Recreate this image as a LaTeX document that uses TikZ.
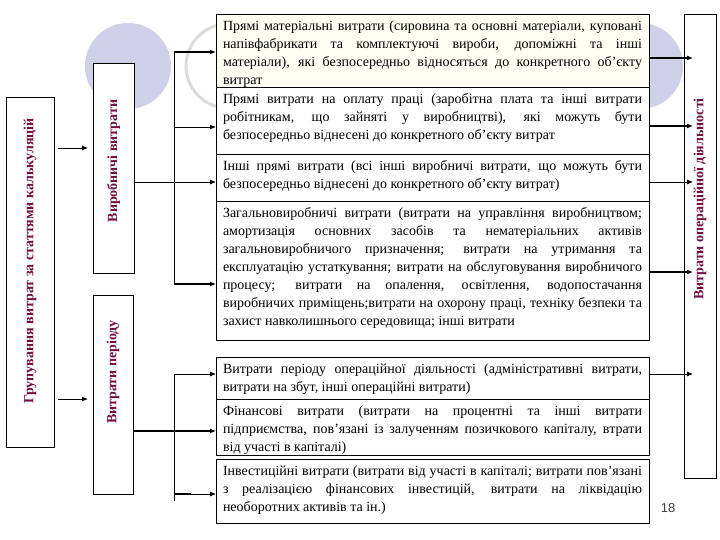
\documentclass[tikz,border=0pt]{standalone}
\usepackage{fontspec}
\setmainfont{Liberation Serif}
\newfontfamily\numfont{Liberation Sans}
\usetikzlibrary{arrows.meta}
\definecolor{lav}{RGB}{208,208,232}
\definecolor{ringgray}{RGB}{220,220,220}
\definecolor{labelred}{RGB}{112,16,64}
\definecolor{cream}{RGB}{255,255,244}
\newcommand\boxtxt[2]{\begin{minipage}[c][#1][t]{419pt}\fontsize{14pt}{18pt}\selectfont\vspace*{6.5pt}#2\end{minipage}}
\begin{document}
\begin{tikzpicture}[x=1pt,y=-1pt,
  tbox/.style={draw=black, line width=0.9pt, fill=white, anchor=north west, inner xsep=7pt, inner ysep=0pt, outer sep=0pt},
  vbox/.style={draw=black, line width=0.9pt, fill=white, anchor=north west, inner sep=0pt, outer sep=0pt},
  vlabel/.style={rotate=90, font=\fontsize{14pt}{16pt}\selectfont\bfseries, text=labelred, inner sep=0pt},
  thinarr/.style={line width=0.8pt, -{Latex[length=6pt,width=5pt]}},
  thickarr/.style={line width=1.8pt, -{Latex[length=6pt,width=5pt]}},
  conn/.style={line width=0.8pt}]
\useasboundingbox (0,0) rectangle (720,540);
\fill[white] (0,0) rectangle (720,540);
% background circles
\fill[lav] (128,66) circle (43pt);
\draw[ringgray, line width=3pt] (228,66) circle (42pt);
\fill[lav] (640,66) circle (43pt);
% left boxes
\node[vbox, minimum width=48pt, minimum height=350pt] (grp) at (6,97) {};
\node[vlabel] (grpl) at (30,261) {Групування витрат за статтями калькуляцій};
\node[vbox, minimum width=41pt, minimum height=210pt] (vyr) at (93,63) {};
\node[vlabel] (vyrl) at (113.5,161) {Виробничі витрати};
\node[vbox, minimum width=40pt, minimum height=199pt] (per) at (93,295) {};
\node[vlabel] (perl) at (113,372) {Витрати періоду};
% right box
\node[vbox, minimum width=32pt, minimum height=464pt] (op) at (684,14) {};
\node[vlabel] (opl) at (700,199) {Витрати операційної діяльності};
% text boxes
\node[tbox, fill=cream] (b1) at (216,14) {\boxtxt{73pt}{Прямі матеріальні витрати (сировина та основні матеріали, куповані \linebreak напівфабрикати та комплектуючі вироби, допоміжні та інші \linebreak матеріали), які безпосередньо відносяться до конкретного об'єкту \linebreak витрат}};
\node[tbox] (b2) at (216,87) {\boxtxt{67pt}{Прямі витрати на оплату праці (заробітна плата та інші витрати \linebreak робітникам, що зайняті у виробництві), які можуть бути \linebreak безпосередньо віднесені до конкретного об'єкту витрат}};
\node[tbox] (b3) at (216,154) {\boxtxt{47pt}{Інші прямі витрати (всі інші виробничі витрати, що можуть бути \linebreak безпосередньо віднесені до конкретного об'єкту витрат)}};
\node[tbox] (b4) at (216,201) {\boxtxt{139pt}{Загальновиробничі витрати (витрати на управління виробництвом; \linebreak амортизація основних засобів та нематеріальних активів \linebreak загальновиробничого призначення; витрати на утримання та \linebreak експлуатацію устаткування; витрати на обслуговування виробничого \linebreak процесу; витрати на опалення, освітлення, водопостачання \linebreak виробничих приміщень;витрати на охорону праці, техніку безпеки та \linebreak захист навколишнього середовища; інші витрати}};
\node[tbox] (b5) at (216,357) {\boxtxt{42pt}{Витрати періоду операційної діяльності (адміністративні витрати, \linebreak витрати на збут, інші операційні витрати)}};
\node[tbox] (b6) at (216,399) {\boxtxt{56pt}{Фінансові витрати (витрати на процентні та інші витрати \linebreak підприємства, пов'язані із залученням позичкового капіталу, втрати \linebreak від участі в капіталі)}};
\node[tbox] (b7) at (216,459) {\boxtxt{64pt}{Інвестиційні витрати (витрати від участі в капіталі; витрати пов'язані \linebreak з реалізацією фінансових інвестицій, витрати на ліквідацію \linebreak необоротних активів та ін.)}};
% page number
\node[font=\numfont\fontsize{13pt}{15pt}\selectfont, text=black!75] (pg) at (668,508) {18};
% coordinates
\coordinate (a1s) at (58,148); \coordinate (a1e) at (88,148);
\coordinate (a2s) at (58,399); \coordinate (a2e) at (88,399);
\coordinate (vt) at (174,52); \coordinate (v2) at (174,127); \coordinate (vb) at (174,284);
\coordinate (y3) at (0,182);
\coordinate (pt) at (174,374); \coordinate (pb) at (174,501); \coordinate (p7) at (174,494);
\coordinate (y6) at (0,431);
\coordinate (opin) at (693,0);
\coordinate (r1) at (0,58); \coordinate (r2) at (0,126); \coordinate (r3) at (0,182);
\coordinate (r4) at (0,272); \coordinate (r5) at (0,374);
% left arrows
\draw[thinarr] (a1s) -- (a1e);
\draw[thinarr] (a2s) -- (a2e);
% production tree
\draw[conn] (vt) -- (vb);
\draw[thickarr] (vt) -- (b1.west |- vt);
\draw[thinarr] (v2) -- (b2.west |- v2);
\draw[thinarr] (vyr.east |- y3) -- (b3.west |- y3);
\draw[thickarr] (vb) -- (b4.west |- vb);
% period tree
\draw[conn] (pt) -- (pb);
\draw[thinarr] (pt) -- (b5.west |- pt);
\draw[thickarr] (per.east |- y6) -- (b6.west |- y6);
\draw[thinarr] (p7) -- (b7.west |- p7);
\draw[line width=1.8pt] (p7) -- ++(17,0);
% right arrows
\draw[thickarr] (b1.east |- r1) -- (opin |- r1);
\draw[thickarr] (b2.east |- r2) -- (opin |- r2);
\draw[thinarr] (b3.east |- r3) -- (opin |- r3);
\draw[thickarr] (b4.east |- r4) -- (opin |- r4);
\draw[thinarr] (b5.east |- r5) -- (opin |- r5);
\end{tikzpicture}
\end{document}
